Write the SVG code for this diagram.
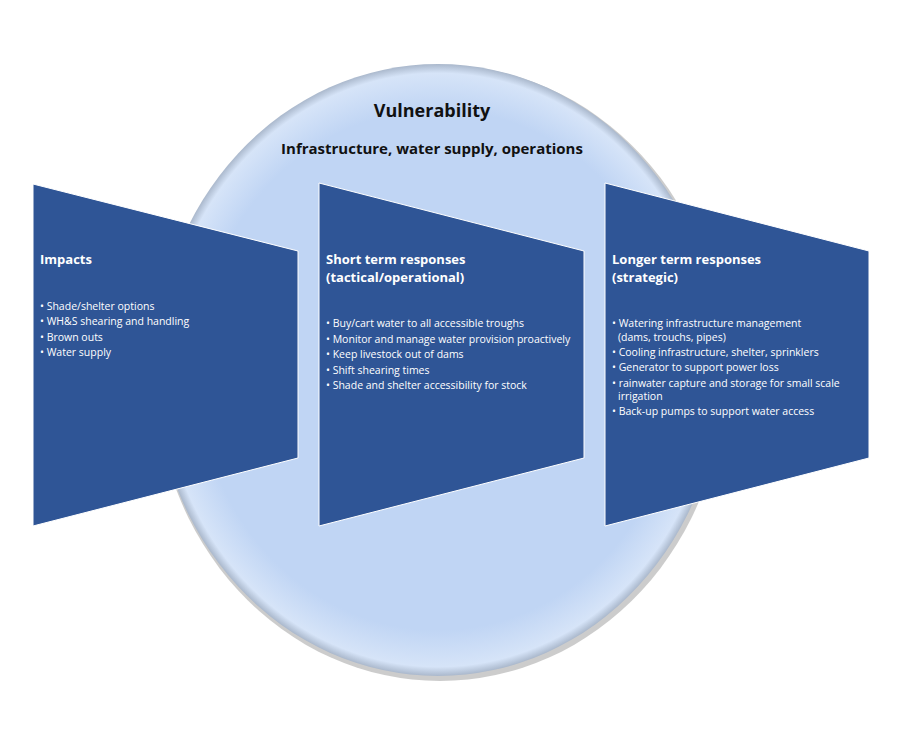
<svg xmlns="http://www.w3.org/2000/svg" width="911" height="751" viewBox="0 0 911 751">
<style>
.sh{fill:#2f5596;stroke:#fff;stroke-width:1}
.h{font-family:"Open Sans","Liberation Sans",sans-serif;font-weight:bold;font-size:13px;fill:#fff}
.b{font-family:"Open Sans","Liberation Sans",sans-serif;font-size:10.5px;fill:#fff}
.t{font-family:"Open Sans","Liberation Sans",sans-serif;font-weight:bold;fill:#111;text-anchor:middle}
</style>
<defs>
<radialGradient id="g" cx="0.5" cy="0.5" r="0.5">
<stop offset="0.85" stop-color="#c0d5f4"/>
<stop offset="0.97" stop-color="#d6e4f8"/>
<stop offset="1" stop-color="#aab8cc"/>
</radialGradient>
</defs>
<rect width="911" height="751" fill="#fff"/>
<g id="circle">
<ellipse cx="440" cy="373" rx="285" ry="308" fill="#9a9a9a" opacity="0.5"/>
<ellipse cx="438" cy="370" rx="283" ry="306" fill="url(#g)"/>
<text class="t" x="432" y="117" font-size="18">Vulnerability</text>
<text class="t" x="432" y="154" font-size="15">Infrastructure, water supply, operations</text>
</g>
<g id="impacts">
<polygon class="sh" points="33,184 298,251 298,458 33,526"/>
<text class="h" x="40" y="264">Impacts</text>
<text class="b"><tspan x="40" y="310">• Shade/shelter options</tspan><tspan x="40" y="325">• WH&amp;S shearing and handling</tspan><tspan x="40" y="341">• Brown outs</tspan><tspan x="40" y="356">• Water supply</tspan></text>
</g>
<g id="short">
<polygon class="sh" points="319,183 584,251 584,458 319,526"/>
<text class="h"><tspan x="326" y="264">Short term responses</tspan><tspan x="326" y="282">(tactical/operational)</tspan></text>
<text class="b"><tspan x="326" y="327">• Buy/cart water to all accessible troughs</tspan><tspan x="326" y="343">• Monitor and manage water provision proactively</tspan><tspan x="326" y="358">• Keep livestock out of dams</tspan><tspan x="326" y="374">• Shift shearing times</tspan><tspan x="326" y="389">• Shade and shelter accessibility for stock</tspan></text>
</g>
<g id="longer">
<polygon class="sh" points="605,183 869,251 869,458 605,526"/>
<text class="h"><tspan x="612" y="264">Longer term responses</tspan><tspan x="612" y="282">(strategic)</tspan></text>
<text class="b"><tspan x="612" y="327">• Watering infrastructure management</tspan><tspan x="618" y="341">(dams, trouchs, pipes)</tspan><tspan x="612" y="356">• Cooling infrastructure, shelter, sprinklers</tspan><tspan x="612" y="371">•  Generator to support power loss</tspan><tspan x="612" y="387">• rainwater capture and storage for small scale</tspan><tspan x="618" y="400">irrigation</tspan><tspan x="612" y="415">• Back-up pumps to support water access</tspan></text>
</g>
<g id="connectors"/>
</svg>
